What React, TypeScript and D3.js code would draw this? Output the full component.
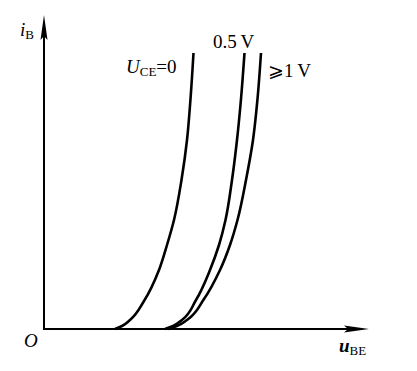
import { useEffect, useRef } from 'react';
import * as d3 from 'd3';

const W = 417;
const H = 371;
const M = { top: 15, right: 48, bottom: 42, left: 44 };

// [u_BE, i_B] in plot units
const curveZero: [number, number][] = [
  [71, 0], [78, 3], [86, 9], [100, 28], [115, 59], [123, 84], [130, 109], [137.5, 149], [143, 189], [146.5, 230], [149.5, 276],
];
const curveHalf: [number, number][] = [
  [121, 0], [129, 3], [138, 9], [152, 29], [166, 59], [175, 84], [181.5, 109], [188, 149], [193, 189], [197, 230], [200.5, 276],
];
const curveOne: [number, number][] = [
  [124, 0], [133, 3], [143, 9], [160, 30], [176, 59], [186, 84], [193.5, 109], [202, 149], [209, 189], [213.5, 230], [217, 276],
];

const series = [
  { name: 'UCE=0', points: curveZero },
  { name: '0.5 V', points: curveHalf },
  { name: '>=1 V', points: curveOne },
];

const FONT = '"Liberation Serif", "DejaVu Serif", serif';

export default function App() {
  const svgRef = useRef<SVGSVGElement>(null);

  useEffect(() => {
    if (!svgRef.current) return;
    const svg = d3.select(svgRef.current);
    svg.selectAll('*').remove();

    const iW = W - M.left - M.right;
    const iH = H - M.top - M.bottom;
    const x = d3.scaleLinear([0, 325], [M.left, M.left + iW]);
    const y = d3.scaleLinear([0, 314], [M.top + iH, M.top]);

    svg.append('rect').attr('width', W).attr('height', H).attr('fill', '#fff');

    const x0 = x(0);
    const y0 = y(0);
    const xEnd = x(325);
    const yEnd = y(314);

    // Axes
    svg.append('line')
      .attr('x1', x0).attr('x2', xEnd - 20)
      .attr('y1', y0).attr('y2', y0)
      .attr('stroke', '#000').attr('stroke-width', 2);
    svg.append('line')
      .attr('x1', x0).attr('x2', x0)
      .attr('y1', y0 + 1).attr('y2', yEnd + 20)
      .attr('stroke', '#000').attr('stroke-width', 2);

    // Arrow heads
    svg.append('path')
      .attr('d', `M${xEnd},${y0} L${xEnd - 25},${y0 - 3.5} L${xEnd - 21},${y0} L${xEnd - 25},${y0 + 3.5} Z`)
      .attr('fill', '#000');
    svg.append('path')
      .attr('d', `M${x0},${yEnd} L${x0 - 3.5},${yEnd + 25} L${x0},${yEnd + 21} L${x0 + 3.5},${yEnd + 25} Z`)
      .attr('fill', '#000');

    // Curves
    const line = d3.line<[number, number]>()
      .x(d => x(d[0]))
      .y(d => y(d[1]))
      .curve(d3.curveMonotoneY);

    series.forEach(s => {
      svg.append('path')
        .attr('d', line(s.points) ?? '')
        .attr('fill', 'none')
        .attr('stroke', '#000')
        .attr('stroke-width', 2.6)
        .attr('stroke-linecap', 'butt');
    });

    const txt = svg.append('g').attr('font-family', FONT).attr('fill', '#000');

    // i_B
    const iB = txt.append('text').attr('x', 20).attr('y', 36).attr('font-size', 19);
    iB.append('tspan').attr('font-style', 'italic').text('i');
    iB.append('tspan').attr('font-size', 13).attr('dy', 3).text('B');

    // O
    txt.append('text').attr('x', 24).attr('y', 347).attr('font-size', 19).attr('font-style', 'italic').text('O');

    // u_BE
    const uBE = txt.append('text').attr('x', 339).attr('y', 352).attr('font-size', 19);
    uBE.append('tspan').attr('font-style', 'italic').attr('font-weight', 'bold').text('u');
    uBE.append('tspan').attr('font-size', 13).attr('dy', 3).text('BE');

    // U_CE=0
    const uce = txt.append('text').attr('x', 126).attr('y', 73).attr('font-size', 19);
    uce.append('tspan').attr('font-style', 'italic').text('U');
    uce.append('tspan').attr('font-size', 13).attr('dy', 3).text('CE');
    uce.append('tspan').attr('dy', -3).text('=0');

    // 0.5 V
    txt.append('text').attr('x', 213).attr('y', 48).attr('font-size', 19).text('0.5\u2009V');

    // >= 1 V
    txt.append('text').attr('x', 268).attr('y', 77).attr('font-size', 19).text('\u2A7E1\u2009V');
  }, []);

  return (
    <svg
      ref={svgRef}
      width={W}
      height={H}
      style={{ position: 'absolute', left: 0, top: 0, display: 'block' }}
    />
  );
}
